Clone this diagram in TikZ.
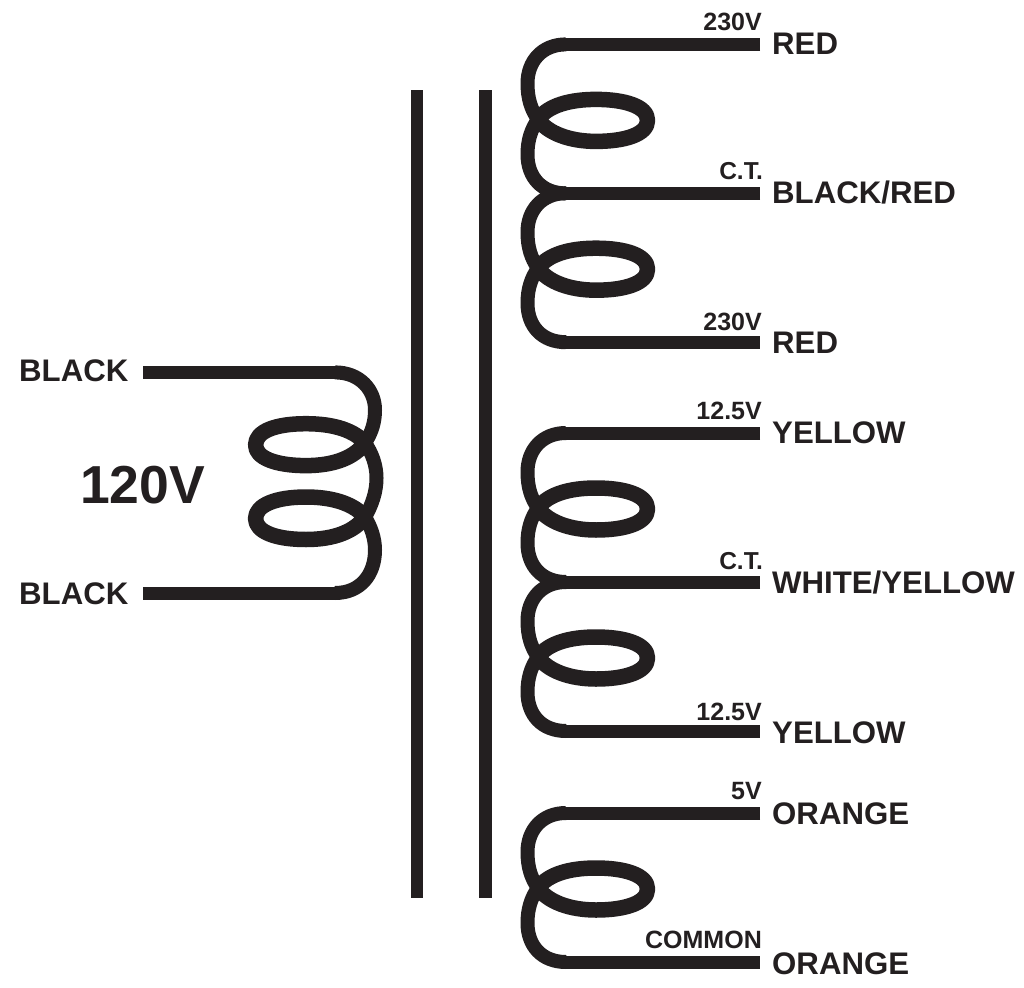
\documentclass[tikz,border=0pt]{standalone}
\usepackage{fontspec}
\setmainfont{Liberation Sans}
\definecolor{ink}{HTML}{231F20}
\tikzset{
  wire/.style={draw=ink,line width=13pt,line join=round},
  curvewire/.style={draw=ink,line width=14pt,line join=round},
  turnwire/.style={draw=ink,line width=15.5pt,line join=round,line cap=round},
  core/.style={fill=ink,draw=none},
  big/.style={text=ink,anchor=base west,inner sep=0pt,font=\fontsize{31.2}{33}\selectfont\bfseries},
  tiny/.style={text=ink,anchor=base east,inner sep=0pt,font=\fontsize{25}{27}\selectfont\bfseries},
  ct/.style={text=ink,anchor=base east,inner sep=0pt,font=\fontsize{24.5}{27}\selectfont\bfseries},
  prim/.style={text=ink,anchor=base west,inner sep=0pt,font=\fontsize{31.2}{33}\selectfont\bfseries},
}
\newcommand{\coilseg}[1]{%
  \draw[wire,shift={(0,#1)}] (760,0) -- (563,0);
  \draw[wire,shift={(0,#1)}] (563,149) -- (760,149);
  \draw[curvewire,shift={(0,#1)}] (566,0)
    .. controls (542,0) and (527.5,17) .. (527.5,39)
    .. controls (527.5,54) and (531,65) .. (538,75)
    .. controls (531,85) and (527.5,96) .. (527.5,110)
    .. controls (527.5,133) and (542,149) .. (566,149);
  \draw[turnwire,shift={(0,#1)}] (538,75)
    .. controls (548,89) and (570,97) .. (596,97)
    .. controls (625,97) and (647.5,90) .. (647.5,76)
    .. controls (647.5,62) and (625,55) .. (596,55)
    .. controls (570,55) and (548,61) .. (538,75);}
\begin{document}
\begin{tikzpicture}[x=1pt,y=-1pt]
\useasboundingbox (0,0) rectangle (1024,987);
\fill[core] (411,90) rectangle (423,898);
\fill[core] (479,90) rectangle (492,898);
\coilseg{44.4}\coilseg{193.2}
\coilseg{433}\coilseg{582}
\coilseg{813}
\draw[wire] (143,372.4) -- (337,372.4);
\draw[wire] (337,593) -- (143,593);
\draw[curvewire] (335,372.4)
  .. controls (360,372.4) and (375,390) .. (375,410)
  .. controls (375,422) and (372,432) .. (365,443)
  .. controls (372,453) and (376.5,465) .. (376.5,478)
  .. controls (376.5,492) and (372,505) .. (365,517)
  .. controls (371,527) and (375,538) .. (375,550)
  .. controls (375,575) and (360,593) .. (335,593);
\draw[turnwire] (365,443)
  .. controls (355,457) and (335,465.6) .. (306,465.6)
  .. controls (276,465.6) and (255.6,458) .. (255.6,445)
  .. controls (255.6,431) and (276,423.7) .. (306,423.7)
  .. controls (335,423.7) and (355,431) .. (365,443);
\draw[turnwire] (365,517)
  .. controls (355,531) and (335,539.5) .. (306,539.5)
  .. controls (276,539.5) and (255.6,532) .. (255.6,518.5)
  .. controls (255.6,505) and (276,497) .. (306,497)
  .. controls (335,497) and (355,505) .. (365,517);
\node[prim] (b1) at (19,381) {BLACK};
\node[prim] (b2) at (19,604) {BLACK};
\node[text=ink,anchor=base west,inner sep=0pt,font=\fontsize{53.5}{56}\selectfont\bfseries] (v120) at (80,503) {120V};
\node[big] (l1) at (772,54.5) {RED};
\node[big] (l2) at (772,203.5) {BLACK/RED};
\node[big] (l3) at (772,353.5) {RED};
\node[big] (l4) at (772,443.5) {YELLOW};
\node[big] (l5) at (772,593.5) {WHITE/YELLOW};
\node[big] (l6) at (772,743.5) {YELLOW};
\node[big] (l7) at (772,824.5) {ORANGE};
\node[big] (l8) at (772,974.5) {ORANGE};
\node[tiny] (t1) at (762,30.5) {230V};
\node[ct] (t2) at (763,179.5) {C.T.};
\node[tiny] (t3) at (762,330.5) {230V};
\node[tiny] (t4) at (762,419.5) {12.5V};
\node[ct] (t5) at (763,569.5) {C.T.};
\node[tiny] (t6) at (762,720) {12.5V};
\node[tiny] (t7) at (762,799.5) {5V};
\node[tiny] (t8) at (762,948) {COMMON};
\end{tikzpicture}
\end{document}
